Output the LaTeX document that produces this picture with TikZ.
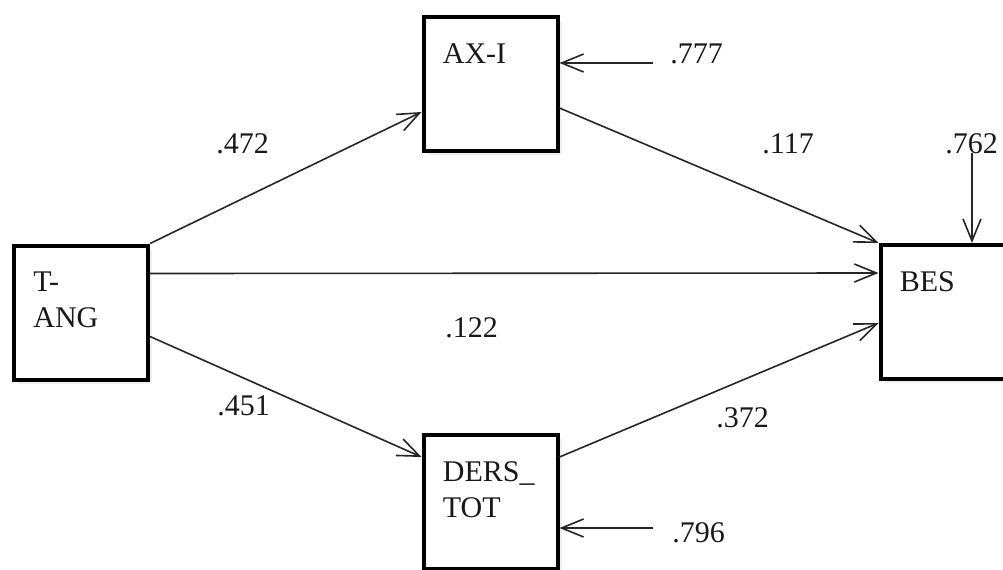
\documentclass[tikz,border=0pt]{standalone}
\usepackage{fontspec}
\setmainfont{Liberation Serif}
\usetikzlibrary{arrows.meta}
\usetikzlibrary{shadows}

\begin{document}
\begin{tikzpicture}[x=0.5pt, y=-0.5pt]
    \colorlet{border}{black}
\colorlet{pathline}{black!85}
\colorlet{annotation}{black!90}

\newcommand\boxsize{67pt}
\newcommand\boxlabel{(21, 48)}
\newcommand\boxlabeltwo{(21, 84)}

\tikzset{
    thin path/.style={
        draw=pathline, line width=.8pt,
        -{Straight Barb[length=11pt, width=9pt]},
    },
    varbox/.style={
        draw=border, line width=2pt, rectangle, fill=white,
        minimum width=\boxsize, minimum height=\boxsize,
        inner sep=0pt,
        drop shadow={opacity=.12, shadow xshift=2pt, shadow yshift=-2pt},
    },
    varbox text/.style={
        annotation, anchor=base west, align=left, inner sep=0pt,
        font=\fontsize{15}{18}\selectfont,
    },
    weight/.style={
        annotation, anchor=base west, inner sep=0pt,
        font=\fontsize{15}{18}\selectfont,
    },
}

\useasboundingbox (0, 0) rectangle (1003, 569);
\clip (0, 0) rectangle (1003, 569);

\begin{scope}
    \node[varbox] at (81, 312.5) (tang) {};
    \node[varbox] at (490.5, 84) (axi) {};
    \node[varbox] at (490.5, 502) (ders) {};
    \node[varbox] at (947.5, 312) (bes) {};

    % two-line labels sit on their last baseline
    \node[varbox text] at ([shift={\boxlabeltwo}]tang.north west) (tang-t) {T-\\ANG};
    \node[varbox text] at ([shift={\boxlabel}]axi.north west) (axi-t) {AX-I};
    \node[varbox text] at ([shift={\boxlabeltwo}]ders.north west) (ders-t) {DERS\_\\TOT};
    \node[varbox text] at ([shift={\boxlabel}]bes.north west) (bes-t) {BES};
\end{scope}

    \draw[thin path] (tang.north east) -- ([yshift=-14pt]axi.west);
    \draw[thin path] ([yshift=-12pt]axi.east) -- (bes.north west);
    \draw[thin path] ([yshift=19.5pt]tang.east) -- ([yshift=19.5pt]bes.west);
    \draw[thin path] ([yshift=-12pt]tang.east) -- ([yshift=22.5pt]ders.west);
    \draw[thin path] ([yshift=22.5pt]ders.east) -- ([yshift=-5.5pt]bes.west);

    % residual terms
    \coordinate (axi-e) at (653, 63);
    \coordinate (ders-e) at (653, 528);
    \coordinate (bes-e) at (972, 153);

    \draw[thin path] (axi-e) -- ([yshift=10.5pt]axi.east);
    \draw[thin path] (ders-e) -- ([yshift=-13pt]ders.east);
    \draw[thin path] (bes-e) -- ([xshift=12.25pt]bes.north);

    \node[weight] at (216, 153) (w-tang-axi) {.472};
    \node[weight] at (762, 153) (w-axi-bes) {.117};
    \node[weight] at (445, 337) (w-tang-bes) {.122};
    \node[weight] at (217, 415) (w-tang-ders) {.451};
    \node[weight] at (716, 427) (w-ders-bes) {.372};
    \node[weight] at (670, 63) (r-axi) {.777};
    \node[weight] at (672, 542) (r-ders) {.796};
    \node[weight] at (945, 153) (r-bes) {.762};
\end{tikzpicture}
\end{document}
